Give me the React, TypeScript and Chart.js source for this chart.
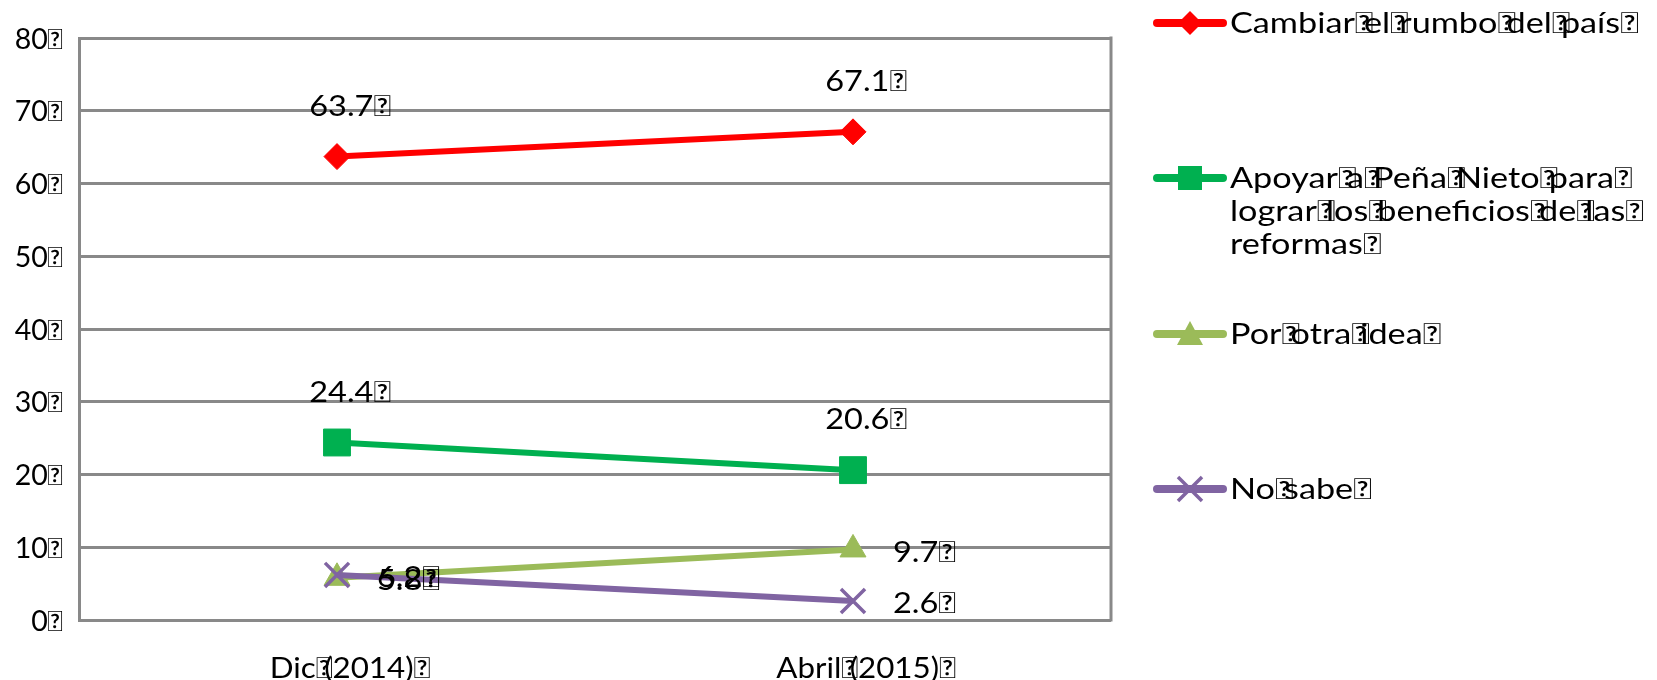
import React, { useEffect, useRef } from "react";
import { Chart, registerables } from "chart.js";

Chart.register(...registerables);

const T = "\uF020";

const categories = ["Dic" + T + "(2014)" + T, "Abril" + T + "(2015)" + T];
const seriesNames = [
  "Cambiar" + T + "el" + T + "rumbo" + T + "del" + T + "país" + T,
  "Apoyar" + T + "a" + T + "Peña" + T + "Nieto" + T + "para" + T + "lograr" + T + "los" + T + "beneficios" + T + "de" + T + "las" + T + "reformas" + T,
  "Por" + T + "otra" + T + "idea" + T,
  "No" + T + "sabe" + T,
];
const cambiarValues = [63.7, 67.1];
const apoyarValues = [24.4, 20.6];
const otraValues = [5.8, 9.7];
const noSabeValues = [6.2, 2.6];
const yMin = 0;
const yMax = 80;
const yStep = 10;

const colors = ["#FF0000", "#00B050", "#9BBB59", "#8064A2"];
const pointStyles = ["rectRot", "rect", "triangle", "crossRot"];
const pointRadii = [13, 19, 15, 17];
const labelPlacement = ["above", "above", "right", "right"];
const legendY = [23, 178, 334, 489];

const FONT = "Lato, 'Noto Sans', sans-serif";
const GRID = "#898989";

function measureTofu(ctx: CanvasRenderingContext2D, text: string, sx: number) {
  const parts = text.split(T);
  const tofuW = ctx.measureText(T).width;
  let total = 0;
  parts.forEach((p, i) => {
    total += ctx.measureText(p).width;
    if (i < parts.length - 1) {
      const isLastTofu = i === parts.length - 2 && parts[parts.length - 1] === "";
      total += isLastTofu ? tofuW : tofuW * 0.5;
    }
  });
  return total * sx;
}

function drawTofuText(
  ctx: CanvasRenderingContext2D,
  text: string,
  x: number,
  y: number,
  align: "left" | "center" | "right",
  sx: number
) {
  const parts = text.split(T);
  const tofuW = ctx.measureText(T).width;
  const midAdv = tofuW * 0.5;
  const total = measureTofu(ctx, text, 1);
  let start = x;
  if (align === "center") start = x - (total * sx) / 2;
  else if (align === "right") start = x - total * sx;
  ctx.save();
  ctx.translate(start, y);
  ctx.scale(sx, 1);
  ctx.textAlign = "left";
  let cx = 0;
  parts.forEach((p, i) => {
    if (p) ctx.fillText(p, cx, 0);
    cx += ctx.measureText(p).width;
    if (i < parts.length - 1) {
      ctx.fillText(T, cx, 0);
      const isLastTofu = i === parts.length - 2 && parts[parts.length - 1] === "";
      cx += isLastTofu ? tofuW : midAdv;
    }
  });
  ctx.restore();
}

function wrapText(ctx: CanvasRenderingContext2D, text: string, maxW: number, sx: number): string[] {
  const tokens = text.split(T).filter((s) => s.length > 0).map((s) => s + T);
  const lines: string[] = [];
  let cur = "";
  for (const tok of tokens) {
    const test = cur + tok;
    if (cur && measureTofu(ctx, test, sx) > maxW) {
      lines.push(cur);
      cur = tok;
    } else {
      cur = test;
    }
  }
  if (cur) lines.push(cur);
  return lines;
}

const customPlugin = {
  id: "custom",
  beforeDatasetsDraw(chart: any) {
    const { ctx, chartArea } = chart;
    ctx.save();
    ctx.strokeStyle = GRID;
    ctx.lineWidth = 3;
    ctx.beginPath();
    ctx.moveTo(chartArea.right, chartArea.top - 1.5);
    ctx.lineTo(chartArea.right, chartArea.bottom + 1.5);
    ctx.stroke();
    ctx.restore();
  },
  afterDatasetsDraw(chart: any) {
    const { ctx } = chart;
    ctx.save();
    ctx.fillStyle = "#000000";
    ctx.font = `29px ${FONT}`;
    ctx.textBaseline = "middle";
    chart.data.datasets.forEach((ds: any, i: number) => {
      const meta = chart.getDatasetMeta(i);
      meta.data.forEach((pt: any, j: number) => {
        const v = ds.data[j];
        const txt = v.toFixed(1) + T;
        if (labelPlacement[i] === "above") {
          drawTofuText(ctx, txt, pt.x + 13, pt.y - 50, "center", 1.12);
        } else {
          drawTofuText(ctx, txt, pt.x + 40, pt.y + 3, "left", 1.12);
        }
      });
    });
    ctx.restore();
  },
  afterDraw(chart: any) {
    const { ctx, chartArea, scales } = chart;
    ctx.save();
    ctx.fillStyle = "#000000";
    ctx.textBaseline = "middle";
    // y tick labels
    ctx.font = `28px ${FONT}`;
    scales.y.ticks.forEach((t: any) => {
      const py = scales.y.getPixelForValue(t.value);
      drawTofuText(ctx, String(t.value) + T, chartArea.left - 16, py + 1.5, "right", 1.02);
    });
    // x tick labels
    ctx.font = `29px ${FONT}`;
    chart.data.labels.forEach((lab: string, i: number) => {
      const px = scales.x.getPixelForTick(i);
      drawTofuText(ctx, lab, px + 13, chartArea.bottom + 49, "center", 1.08);
    });
    // legend
    const x0 = chartArea.right + 42;
    const x1 = x0 + 74;
    ctx.font = `29px ${FONT}`;
    chart.data.datasets.forEach((ds: any, i: number) => {
      const y = legendY[i];
      ctx.strokeStyle = colors[i];
      ctx.lineWidth = 8;
      ctx.lineCap = "round";
      ctx.beginPath();
      ctx.moveTo(x0 + 4, y);
      ctx.lineTo(x1 - 4, y);
      ctx.stroke();
      const style = pointStyles[i];
      const cx = (x0 + x1) / 2;
      ctx.fillStyle = colors[i];
      ctx.lineWidth = 3.5;
      ctx.lineCap = "butt";
      if (style === "rectRot") {
        ctx.beginPath();
        ctx.moveTo(cx, y - 12);
        ctx.lineTo(cx + 12, y);
        ctx.lineTo(cx, y + 12);
        ctx.lineTo(cx - 12, y);
        ctx.closePath();
        ctx.fill();
      } else if (style === "rect") {
        ctx.fillRect(cx - 12, y - 12, 24, 24);
      } else if (style === "triangle") {
        ctx.beginPath();
        ctx.moveTo(cx, y - 13);
        ctx.lineTo(cx + 13, y + 11);
        ctx.lineTo(cx - 13, y + 11);
        ctx.closePath();
        ctx.fill();
      } else {
        ctx.beginPath();
        ctx.moveTo(cx - 12, y - 12);
        ctx.lineTo(cx + 12, y + 12);
        ctx.moveTo(cx + 12, y - 12);
        ctx.lineTo(cx - 12, y + 12);
        ctx.stroke();
      }
      ctx.fillStyle = "#000000";
      const lines = wrapText(ctx, ds.label, 428, 1.18);
      lines.forEach((ln, k) => {
        drawTofuText(ctx, ln, x1 + 3, y + 1 + k * 33, "left", 1.18);
      });
    });
    ctx.restore();
  },
};

export default function App() {
  const ref = useRef<HTMLCanvasElement | null>(null);
  useEffect(() => {
    if (!ref.current) return;
    const seriesValues = [cambiarValues, apoyarValues, otraValues, noSabeValues];
    const chart = new Chart(ref.current, {
      type: "line",
      data: {
        labels: categories,
        datasets: seriesValues.map((vals, i) => ({
          label: seriesNames[i],
          data: vals,
          borderColor: colors[i],
          backgroundColor: colors[i],
          borderWidth: 6,
          pointStyle: pointStyles[i] as any,
          pointRadius: pointRadii[i],
          pointBorderWidth: i === 3 ? 3.5 : 1,
          pointBorderColor: colors[i],
          pointBackgroundColor: colors[i],
          tension: 0,
          fill: false,
          order: 3 - i,
        })),
      },
      options: {
        animation: false,
        responsive: false,
        maintainAspectRatio: false,
        devicePixelRatio: 1,
        layout: { padding: { top: 38, right: 546, left: 0, bottom: 0 } },
        plugins: {
          legend: { display: false },
          tooltip: { enabled: false },
        },
        scales: {
          x: {
            offset: true,
            grid: { display: false },
            border: { display: false },
            ticks: { display: false },
            afterFit: (s: any) => {
              s.height = 60;
            },
          },
          y: {
            min: yMin,
            max: yMax,
            grid: { color: GRID, lineWidth: 3, drawTicks: false },
            border: { display: true, color: GRID, width: 3 },
            ticks: { display: false, stepSize: yStep },
            afterFit: (s: any) => {
              s.width = 79;
            },
          },
        },
      },
      plugins: [customPlugin],
    });
    return () => chart.destroy();
  }, []);
  return (
    <div style={{ position: "fixed", left: 0, top: 0, width: 1657, height: 680, background: "#fff" }}>
      <canvas ref={ref} width={1657} height={680} style={{ width: 1657, height: 680, display: "block" }} />
    </div>
  );
}
